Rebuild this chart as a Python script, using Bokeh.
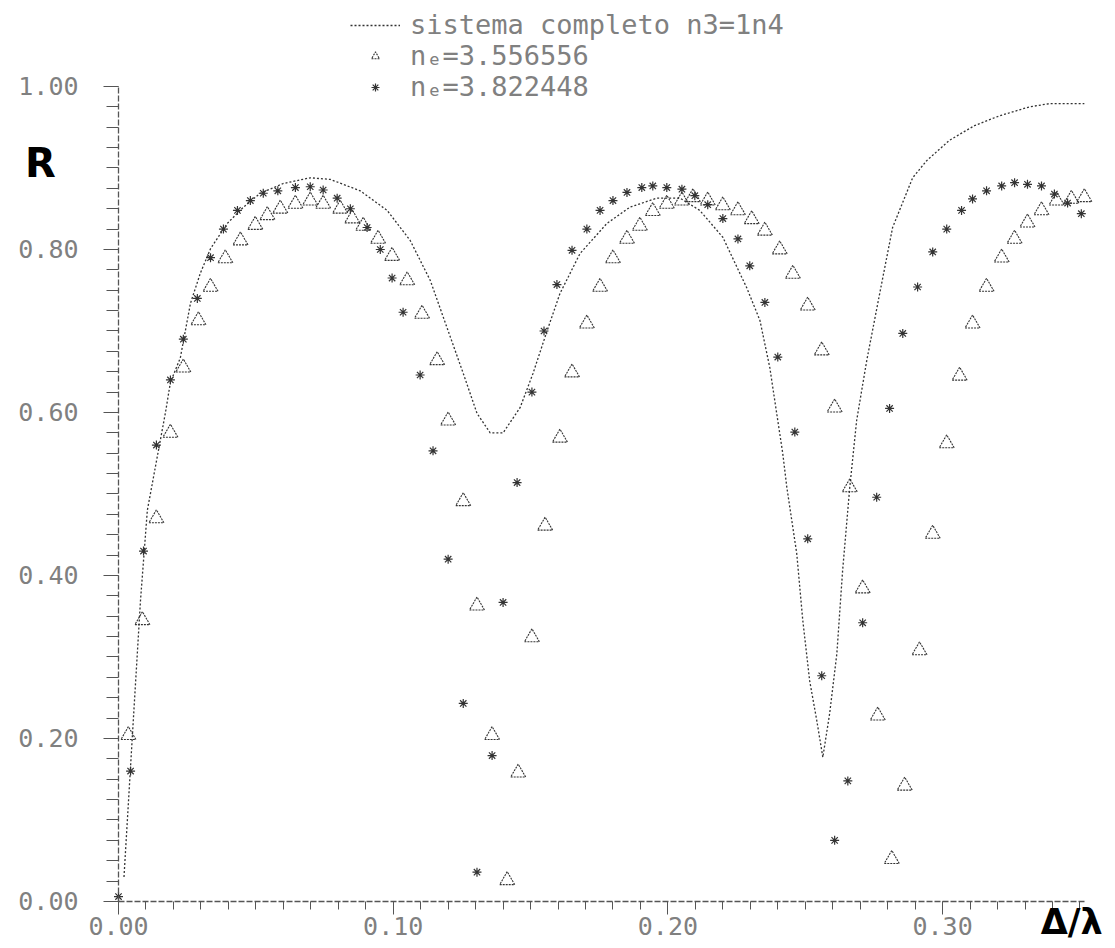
from bokeh.plotting import figure
from bokeh.models import Range1d, FixedTicker, Label, Legend, LegendItem
from bokeh.embed import file_html
from bokeh.resources import INLINE

# ---------------- data ----------------
x_ticks = [0.0, 0.1, 0.2, 0.3]
x_tick_labels = ["0.00", "0.10", "0.20", "0.30"]
y_ticks = [0.0, 0.2, 0.4, 0.6, 0.8, 1.0]
y_tick_labels = ["0.00", "0.20", "0.40", "0.60", "0.80", "1.00"]

series_line_name = "sistema completo n3=1n4"
series_tri_name = "n\u2091=3.556556"
series_ast_name = "n\u2091=3.822448"

line_x = [0.002, 0.0051, 0.008, 0.0105, 0.0171, 0.0189, 0.0225, 0.0262, 0.0298, 0.0335,
          0.0396, 0.0455, 0.0516, 0.060, 0.0698, 0.0771, 0.088, 0.0978, 0.1062, 0.1135,
          0.1196, 0.1255, 0.1305, 0.1353, 0.140, 0.1462, 0.1509, 0.156, 0.1607, 0.168,
          0.1778, 0.1862, 0.196, 0.2044, 0.2116, 0.220, 0.2287, 0.2335, 0.2371, 0.2396,
          0.2418, 0.2433, 0.2469, 0.2491, 0.2516, 0.2542, 0.2564, 0.2589, 0.2615, 0.2636,
          0.2662, 0.2687, 0.2724, 0.2771, 0.2818, 0.2891, 0.2942, 0.3025, 0.3116, 0.3207,
          0.3316, 0.3389, 0.3516]
line_r = [0.03, 0.206, 0.369, 0.48, 0.60, 0.637, 0.667, 0.734, 0.771, 0.801,
          0.832, 0.852, 0.869, 0.881, 0.888, 0.886, 0.872, 0.848, 0.811, 0.762,
          0.704, 0.648, 0.599, 0.575, 0.575, 0.606, 0.648, 0.70, 0.746, 0.795,
          0.832, 0.852, 0.863, 0.863, 0.848, 0.815, 0.753, 0.713, 0.655, 0.599,
          0.55, 0.508, 0.427, 0.345, 0.271, 0.222, 0.177, 0.231, 0.304, 0.406,
          0.508, 0.59, 0.664, 0.746, 0.827, 0.888, 0.909, 0.934, 0.952, 0.964,
          0.975, 0.979, 0.979]

tri_x = [0.0036, 0.0087, 0.0138, 0.0189, 0.0236, 0.0291, 0.0335, 0.0389, 0.0444, 0.0498,
         0.0542, 0.0589, 0.0644, 0.0698, 0.0745, 0.0807, 0.0851, 0.0891, 0.0945, 0.0996,
         0.1051, 0.1105, 0.116, 0.120, 0.1255, 0.1305, 0.136, 0.1415, 0.1455, 0.1505,
         0.1553, 0.1607, 0.1651, 0.1705, 0.1753, 0.180, 0.1851, 0.1898, 0.1945, 0.1996,
         0.2051, 0.2091, 0.2145, 0.220, 0.2255, 0.2305, 0.2353, 0.2407, 0.2455, 0.2509,
         0.256, 0.2607, 0.2662, 0.2709, 0.2764, 0.2815, 0.2862, 0.2916, 0.2964, 0.3015,
         0.3062, 0.3109, 0.316, 0.3215, 0.3262, 0.3309, 0.336, 0.3415, 0.3469, 0.3516]
tri_r = [0.204, 0.345, 0.47, 0.575, 0.655, 0.713, 0.754, 0.789, 0.811, 0.83,
         0.842, 0.85, 0.856, 0.86, 0.856, 0.85, 0.838, 0.829, 0.813, 0.792,
         0.762, 0.721, 0.664, 0.59, 0.491, 0.363, 0.204, 0.026, 0.158, 0.324,
         0.461, 0.569, 0.649, 0.709, 0.754, 0.789, 0.813, 0.829, 0.847, 0.856,
         0.86, 0.864, 0.86, 0.854, 0.848, 0.837, 0.823, 0.80, 0.77, 0.731,
         0.676, 0.606, 0.508, 0.384, 0.228, 0.052, 0.142, 0.308, 0.451, 0.562,
         0.645, 0.709, 0.754, 0.79, 0.813, 0.833, 0.848, 0.86, 0.862, 0.864]

ast_x = [0.0, 0.0044, 0.0091, 0.0138, 0.0189, 0.0236, 0.0287, 0.0335, 0.0382, 0.0433,
         0.048, 0.0527, 0.058, 0.0644, 0.0698, 0.0745, 0.0796, 0.0844, 0.0905, 0.0953,
         0.0996, 0.1036, 0.1098, 0.1145, 0.120, 0.1255, 0.1305, 0.136, 0.140, 0.1451,
         0.1505, 0.1549, 0.1596, 0.1651, 0.1705, 0.1753, 0.180, 0.1851, 0.1905, 0.1945,
         0.1996, 0.2051, 0.2098, 0.2145, 0.220, 0.2255, 0.2298, 0.2353, 0.240, 0.2462,
         0.2509, 0.256, 0.2607, 0.2655, 0.2709, 0.276, 0.2807, 0.2855, 0.2909, 0.2964,
         0.3015, 0.3069, 0.3109, 0.316, 0.3215, 0.3262, 0.3309, 0.336, 0.3407, 0.3455,
         0.3505]
ast_r = [0.006, 0.16, 0.43, 0.56, 0.64, 0.69, 0.74, 0.79, 0.825, 0.848,
         0.86, 0.869, 0.872, 0.876, 0.877, 0.873, 0.863, 0.85, 0.827, 0.80,
         0.765, 0.723, 0.646, 0.553, 0.42, 0.243, 0.036, 0.179, 0.367, 0.514,
         0.625, 0.70, 0.757, 0.799, 0.825, 0.848, 0.86, 0.87, 0.876, 0.878,
         0.876, 0.874, 0.866, 0.855, 0.838, 0.813, 0.78, 0.735, 0.668, 0.576,
         0.445, 0.277, 0.075, 0.148, 0.342, 0.496, 0.605, 0.697, 0.754, 0.797,
         0.825, 0.848, 0.862, 0.872, 0.878, 0.882, 0.88, 0.878, 0.868, 0.857,
         0.844]

# ---------------- figure ----------------
TXT = "#808080"
INK = "#333333"
W, H = 1114, 946

# the frame fills the whole canvas; the axes sit at x=0 / R=0 (fixed_location)
p = figure(width=W, height=H, output_backend="svg", toolbar_location=None,
           x_range=Range1d(-0.042956, 0.362577), y_range=Range1d(-0.055215, 1.105521),
           min_border_left=0, min_border_right=0, min_border_top=0, min_border_bottom=0,
           background_fill_color="white", border_fill_color="white")
p.title.visible = False
p.outline_line_color = None
p.xgrid.visible = False
p.ygrid.visible = False

ln = p.line(line_x, line_r, line_color=INK, line_width=1.3, line_dash="2 2")
tr = p.scatter(tri_x, tri_r, marker="triangle", size=15, fill_color=None,
               line_color=INK, line_width=1.1, line_dash="2 1")
ast = p.scatter(ast_x, ast_r, marker="asterisk", size=9, line_color=INK, line_width=1.2)

# axes
minor_x = [round(0.01 * i, 3) for i in range(0, 36)]
minor_y = [round(0.025 * i, 3) for i in range(0, 41)]
p.xaxis.ticker = FixedTicker(ticks=x_ticks, minor_ticks=minor_x)
p.yaxis.ticker = FixedTicker(ticks=y_ticks, minor_ticks=minor_y)
p.xaxis.major_label_overrides = dict(zip(x_ticks, x_tick_labels))
p.yaxis.major_label_overrides = dict(zip(y_ticks, y_tick_labels))
p.xaxis.fixed_location = 0
p.yaxis.fixed_location = 0
p.xaxis.bounds = (0, 0.352)
p.yaxis.bounds = (0, 1.0)

for ax in (p.xaxis[0], p.yaxis[0]):
    ax.axis_line_color = "#555555"
    ax.axis_line_width = 1.3
    ax.axis_line_dash = "6 2"
    ax.major_tick_line_color = "#555555"
    ax.minor_tick_line_color = "#555555"
    ax.major_tick_in = 0
    ax.minor_tick_in = 0
    ax.major_label_text_font = "DejaVu Sans Mono"
    ax.major_label_text_font_size = "25px"
    ax.major_label_text_color = TXT
p.xaxis.major_tick_out = 13
p.xaxis.minor_tick_out = 8
p.xaxis.major_label_standoff = 3
p.yaxis.major_tick_out = 15
p.yaxis.minor_tick_out = 12
p.yaxis.major_label_standoff = 25

# axis titles (handwritten in the original)
p.add_layout(Label(x=-0.0284, y=0.9067, text="R", text_align="center", text_baseline="middle",
                   text_font="DejaVu Sans", text_font_size="40px", text_font_style="bold",
                   text_color="black"))
p.add_layout(Label(x=0.3470, y=-0.0250, text="\u0394/\u03bb", text_align="center",
                   text_baseline="middle", text_font="DejaVu Sans", text_font_style="bold",
                   text_font_size="35px", text_color="black"))

legend = Legend(items=[LegendItem(label=series_line_name, renderers=[ln]),
                       LegendItem(label=series_tri_name, renderers=[tr]),
                       LegendItem(label=series_ast_name, renderers=[ast])],
                location=(350, H - 102), glyph_width=50, glyph_height=20, label_height=28,
                label_standoff=10, spacing=0, padding=0, margin=0,
                border_line_alpha=0, background_fill_alpha=0,
                label_text_font="DejaVu Sans Mono", label_text_font_size="27px",
                label_text_color=TXT)
p.add_layout(legend)

open("out.html", "w").write(file_html(p, INLINE))
